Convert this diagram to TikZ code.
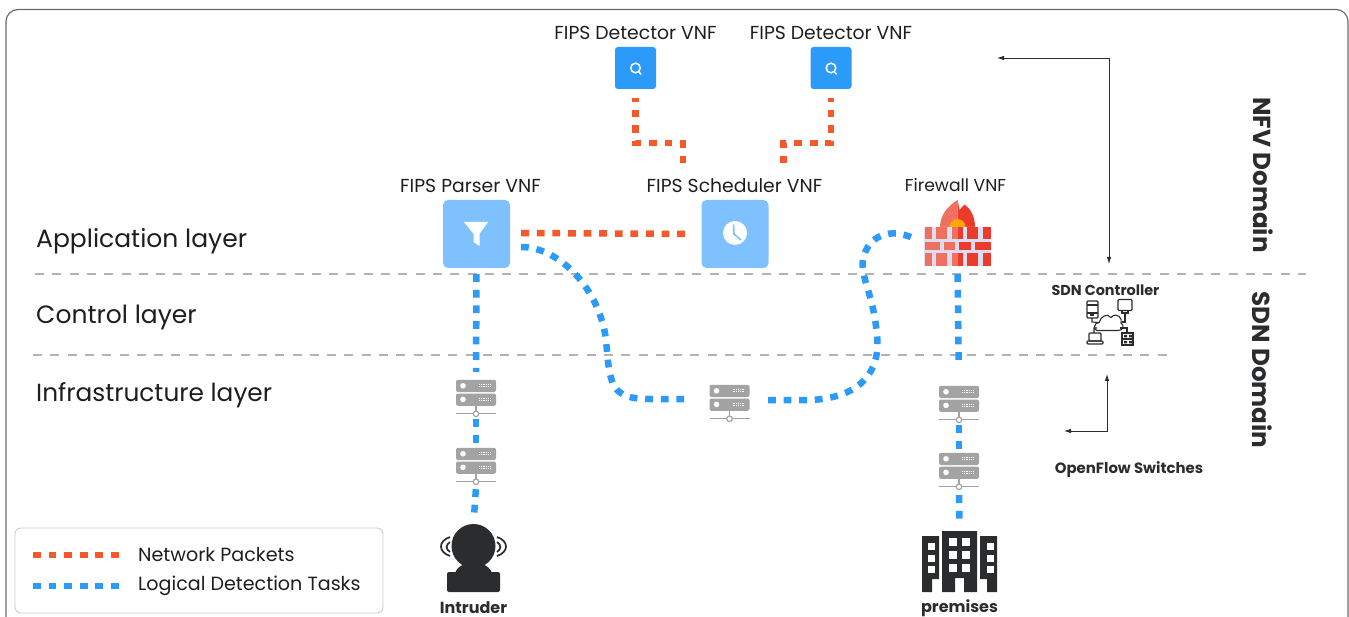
\documentclass[tikz,border=0pt]{standalone}
\usepackage{fontspec}
\setmainfont{Poppins}
\usetikzlibrary{calc,arrows.meta}
\definecolor{pktc}{HTML}{F4592B}
\definecolor{taskc}{HTML}{2B9AF9}
\definecolor{lightb}{HTML}{7FC1FF}
\definecolor{ink}{HTML}{1E1E1E}
\definecolor{dark}{HTML}{2B2C2E}
\definecolor{srvc}{HTML}{A3A3A3}
\definecolor{fwl}{HTML}{F0705F}
\definecolor{fwr}{HTML}{EC3B2B}
\definecolor{fwbg}{HTML}{DDDDF2}
\tikzset{
  x=1pt,y=-1pt,
  pktline/.style={draw=pktc,line width=6.5pt,dash pattern=on 7.8pt off 7.8pt},
  taskline/.style={draw=taskc,line width=6.5pt,dash pattern=on 7.8pt off 7.8pt},
  layerline/.style={draw=black!30,line width=1.4pt,dash pattern=on 9pt off 8.3pt},
  thinarrow/.style={draw=dark,line width=0.8pt,{Latex[length=7pt,width=4.5pt]}-{Latex[length=7pt,width=4.5pt]}},
  lab/.style={text=ink,font=\fontsize{18.8}{22}\selectfont,inner sep=0pt},
  layerlab/.style={text=ink,font=\fontsize{25}{29}\selectfont,inner sep=0pt,anchor=west},
  leglab/.style={text=ink,font=\fontsize{19.1}{23}\selectfont,inner sep=0pt,anchor=west},
  boldlab/.style={text=dark,font=\bfseries\fontsize{16}{18}\selectfont,inner sep=0pt},
  domainlab/.style={text=dark,font=\bfseries\fontsize{24.6}{28}\selectfont,inner sep=0pt,rotate=-90},
  detbox/.style={fill=taskc,rounded corners=3pt,minimum width=41pt,minimum height=42pt,inner sep=0pt},
  vnfbox/.style={fill=lightb,rounded corners=5pt,minimum width=67pt,minimum height=68pt,inner sep=0pt},
  srvbox/.style={minimum width=40pt,minimum height=39pt,inner sep=0pt},
  server/.pic={
    \fill[srvc,rounded corners=2pt] (-20,0) rectangle (20,12.2);
    \fill[srvc,rounded corners=2pt] (-20,13.7) rectangle (20,26);
    \fill[white] (-13,6) circle (2.8) (-13,19.6) circle (2.8);
    \foreach \yy in {6,19.6}{
      \draw[white,line width=1.1pt,dash pattern=on 1pt off 0.8pt] (3,\yy-1) -- (15,\yy-1);
      \draw[white,line width=1.1pt,dash pattern=on 1pt off 0.8pt] (3,\yy+1) -- (15,\yy+1);
    }
    \draw[srvc,line width=1.2pt] (0,26) -- (0,34) (-20,34) -- (20,34);
    \draw[srvc,line width=1.2pt,fill=white] (0,34) circle (2.8);
  },
  search/.pic={
    \draw[white,line width=1.5pt] (0,0) circle (4.8);
    \draw[white,line width=1.5pt] (2.8,3.4) -- (5.6,6.4);
  },
}
\begin{document}
\begin{tikzpicture}
\useasboundingbox (0,0) rectangle (1349,617);
\begin{scope}
\clip (0,0) rectangle (1349,617);
\draw[draw=black!58,line width=1.2pt,rounded corners=12pt] (6,9.5) rectangle (1348,640);
\end{scope}

% layer lines
\coordinate (l1a) at (35,274); \coordinate (l1b) at (1306,274);
\coordinate (l2a) at (33,355); \coordinate (l2b) at (1172,355);
\draw[layerline] (l1a) -- (l1b);
\draw[layerline] (l2a) -- (l2b);

% layer labels
\node[layerlab] (appl) at (36,241) {Application layer};
\node[layerlab] (ctrl) at (36,317) {Control layer};
\node[layerlab,font=\fontsize{24.8}{29}\selectfont] (infl) at (36,395) {Infrastructure layer};

% VNF boxes
\node[detbox] (det1) at (635.5,68) {};
\node[detbox] (det2) at (831,68) {};
\node[vnfbox] (parser) at (476.5,234) {};
\node[vnfbox] (sched) at (735,234) {};
\pic at (635.5,68) {search};
\pic at (831,68) {search};
\node[lab] (det1l) at (635.5,33) {FIPS Detector VNF};
\node[lab] (det2l) at (831,33) {FIPS Detector VNF};
\node[lab] (parl) at (470.5,186) {FIPS Parser VNF};
\node[lab] (schl) at (734.5,186) {FIPS Scheduler VNF};
\node[lab,font=\fontsize{17.2}{20}\selectfont] (fwll) at (955.5,185.5) {Firewall VNF};

% filter icon
\fill[white] (464,222) -- (488,222) -- (479.5,234) -- (479.5,246) -- (473.5,242) -- (473.5,234) -- cycle;
% clock icon
\fill[white] (735,233) circle (12);
\draw[lightb,line width=1.6pt] (733.5,224.5) -- (734,234) -- (741,240);

% firewall
\node[inner sep=0pt,minimum width=67pt,minimum height=66pt] (fw) at (957.5,233) {};
\fill[fwl] (940,227) .. controls (940,215) and (948,206) .. (957.5,200) -- (957.5,227) -- cycle;
\fill[fwr] (957.5,227) -- (957.5,200) .. controls (958.5,204) and (959,207) .. (959.5,210) .. controls (961,208) and (963,206) .. (964.5,204.5) .. controls (971,209) and (975,217) .. (975,227) -- cycle;
\fill[orange!70!yellow] (949.5,227) arc (180:360:8);
\fill[fwbg,rounded corners=1.5pt] (924,227) rectangle (991,266);
\foreach \a/\b in {925/932,936/947,952/957.5}{
  \fill[fwl] (\a,227) rectangle (\b,239);
  \fill[fwl] (\a,253.5) rectangle (\b,266);
}
\foreach \a/\b in {957.5/963,967/978,983/990.5}{
  \fill[fwr] (\a,227) rectangle (\b,239);
  \fill[fwr] (\a,253.5) rectangle (\b,266);
}
\fill[fwl] (925,242.5) rectangle (940,250);
\fill[fwl] (944,242.5) rectangle (955,250);
\fill[fwr] (959,242.5) rectangle (971,250);
\fill[fwr] (975,242.5) rectangle (990.5,250);

% servers
\node[srvbox] (s1) at (476,399.5) {};
\node[srvbox] (s2) at (476,467.5) {};
\node[srvbox] (s3) at (729.5,404.5) {};
\node[srvbox] (s4) at (959,405.5) {};
\node[srvbox] (s5) at (959,472.5) {};
\foreach \n in {s1,s2,s3,s4,s5}{ \pic at (\n.north) {server}; }

% intruder
\node[inner sep=0pt,minimum width=53pt,minimum height=68pt] (intr) at (473.5,558) {};
\fill[dark] (473.5,546) circle (22);
\fill[dark] (473.5,575) ellipse (18.5 and 12.5);
\fill[dark,rounded corners=2pt] (447,572) rectangle (500,592);
\draw[dark,line width=1.7pt] (450,542) .. controls (445.5,545) and (445.5,549) .. (450,552);
\draw[dark,line width=1.7pt] (450,537) .. controls (438,541) and (438,552) .. (450,556);
\draw[dark,line width=1.7pt] (497,542) .. controls (501.5,545) and (501.5,549) .. (497,552);
\draw[dark,line width=1.7pt] (497,537) .. controls (509,541) and (509,552) .. (497,556);
\node[boldlab] (intl) at (473.5,607.5) {Intruder};

% premises
\node[inner sep=0pt,minimum width=75pt,minimum height=61pt] (prem) at (959.5,561.5) {};
\fill[dark] (922,536) -- (939,536) -- (939,579) -- (932,579) -- (932,592) -- (922,592) -- cycle;
\fill[dark] (942,531) -- (977,531) -- (977,592) -- (964,592) -- (964,578) -- (955,578) -- (955,592) -- (942,592) -- cycle;
\fill[dark] (997,536) -- (980,536) -- (980,579) -- (987,579) -- (987,592) -- (997,592) -- cycle;
\foreach \y in {543,555,566}{
  \fill[white] (928,\y) rectangle +(7,7);
  \fill[white] (987,\y) rectangle +(7,7);
}
\foreach \y in {538,551,564}{
  \fill[white] (949,\y) rectangle +(8,8);
  \fill[white] (962,\y) rectangle +(8,8);
}
\node[boldlab] (preml) at (959.5,608.5) {premises};

% packet connectors
\coordinate (d1a) at (635.5,98); \coordinate (d1b) at (635.5,143); \coordinate (d1c) at (683,143); \coordinate (d1d) at (683,169);
\coordinate (d2a) at (831,98); \coordinate (d2b) at (831,143); \coordinate (d2c) at (783.5,143); \coordinate (d2d) at (783.5,169);
\draw[pktline,dash phase=4pt] (d1a) -- (d1b) -- (d1c) -- (d1d);
\draw[pktline,dash phase=4pt] (d2a) -- (d2b) -- (d2c) -- (d2d);
\draw[pktline,shorten >=15pt] ($(parser.east)+(11,-1)$) -- (sched.west);

% task connectors
\draw[taskline,shorten <=6pt,shorten >=8pt] (parser.south) -- (s1.north);
\draw[taskline] (s1.south) -- (s2.north);
\draw[taskline,shorten <=2pt,shorten >=11pt] (s2.south) -- (intr.north);
\draw[taskline,shorten <=8pt,shorten >=26pt] (fw.south) -- (s4.north);
\draw[taskline] (s4.south) -- (s5.north);
\draw[taskline,shorten <=3pt,shorten >=12pt] (s5.south) -- (prem.north);
\coordinate (c1) at (521,247); \coordinate (c2) at (606,340); \coordinate (c3) at (650,399); \coordinate (c4) at (691,399);
\coordinate (c5) at (768,400); \coordinate (c6) at (810,400); \coordinate (c7) at (877,335); \coordinate (c8) at (864,255); \coordinate (c9) at (917,240);
\draw[taskline] (c1) .. controls (560,247) and (600,290) .. (c2) .. controls (610,385) and (610,399) .. (c3) -- (c4);
\draw[taskline] (c5) -- (c6) .. controls (860,398) and (881,372) .. (c7) .. controls (873,290) and (858,275) .. (c8) .. controls (872,232) and (895,228) .. (c9);

% sdn controller
\node[boldlab,font=\bfseries\fontsize{14.4}{16}\selectfont] (sdnl) at (1105.5,290) {SDN Controller};
\begin{scope}[draw=dark,line width=1.1pt]
\draw[rounded corners=1pt] (1087,301) rectangle (1098,318);
\draw (1087,305) -- (1098,305) (1087,313) -- (1098,313);
\fill[dark] (1090,314.5) rectangle (1094,316.5);
\draw[rounded corners=1pt] (1118,299.5) rectangle (1132,310.5);
\draw (1122,310.5) -- (1128,310.5) -- (1128,313) -- (1122,313) -- cycle (1125,313) -- (1125,322) -- (1122,322);
\draw (1097,330.5) .. controls (1093,330.5) and (1094,322) .. (1099,322.5) .. controls (1101,316) and (1107,313) .. (1111,317.5) .. controls (1117,311) and (1123,319) .. (1121,323) .. controls (1125,326) and (1123,330.5) .. (1118,330.5) -- cycle;
\draw (1092,318) -- (1092,322) -- (1099,322.5) (1097,328) -- (1094,328) -- (1094,333);
\draw[rounded corners=1pt] (1089,333) rectangle (1101,341);
\draw[rounded corners=1pt] (1087,341) rectangle (1103,344);
\draw (1120,328) -- (1127,328) -- (1127,333);
\draw (1122,333) rectangle (1133,345);
\draw (1122,339) -- (1133,339);
\fill[dark] (1124,335) rectangle (1127,337.5) (1129,335) rectangle (1132,337.5) (1124,341) rectangle (1127,343.5) (1129,341) rectangle (1132,343.5);
\end{scope}
\node[boldlab,font=\bfseries\fontsize{14.9}{17}\selectfont] (ofsl) at (1129,470) {OpenFlow Switches};

% elbow arrows
\coordinate (a1) at (997,58); \coordinate (a2) at (1109,58); \coordinate (a3) at (1109,264);
\coordinate (a4) at (1064,431); \coordinate (a5) at (1107,431); \coordinate (a6) at (1107,374);
\draw[thinarrow] (a1) -- (a2) -- (a3);
\draw[thinarrow] (a4) -- (a5) -- (a6);

% domains
\node[domainlab] (nfv) at (1263.5,175) {NFV Domain};
\node[domainlab] (sdn) at (1262.5,370) {SDN Domain};

% legend
\node[draw=black!20,line width=0.9pt,rounded corners=6pt,minimum width=368pt,minimum height=85pt,inner sep=0pt] (leg) at (199,570.5) {};
\coordinate (la1) at (33,555); \coordinate (la2) at (120,555);
\coordinate (lb1) at (33,586); \coordinate (lb2) at (120,586);
\draw[pktline] (la1) -- (la2);
\draw[taskline] (lb1) -- (lb2);
\node[leglab] (legp) at (138,554.5) {Network Packets};
\node[leglab] (legt) at (138,586) {Logical Detection Tasks};
\end{tikzpicture}
\end{document}
